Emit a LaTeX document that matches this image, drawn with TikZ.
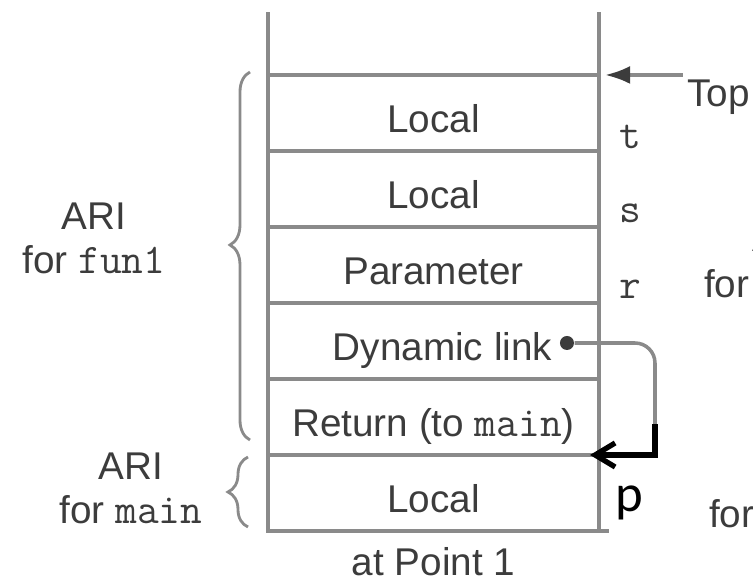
\documentclass[tikz,border=0pt]{standalone}
\usepackage{fontspec}
\setmainfont{Liberation Sans}
\newfontfamily\pfont{Carlito}
\usetikzlibrary{arrows.meta,positioning,decorations.pathreplacing}
\definecolor{stackline}{HTML}{8A8A8A}
\definecolor{stacktext}{HTML}{3C3C3C}

\begin{document}
\begin{tikzpicture}[
    x=0.01cm, y=-0.01cm,
    node distance=0pt,
    cell/.style={draw=stackline,line width=1pt,minimum width=3.31cm,minimum height=0.76cm,
      inner sep=0pt,outer sep=0pt,text height=0.45cm,text depth=0.07cm,
      text=stacktext,font=\fontsize{11}{13.2}\selectfont},
    lbl/.style={text=stacktext,align=center,inner sep=1pt,font=\fontsize{11}{12.5}\selectfont},
    var/.style={text=stacktext,inner sep=1pt,font=\fontsize{12}{13}\ttfamily},
    curly/.style={decorate,decoration={brace,amplitude=0.2cm,aspect=#1},draw=stackline,line width=0.8pt},
    >=Latex]
  \useasboundingbox (0,0) rectangle (753,582);

  % the stack, top cell first
  \node[cell] (c1) at (433.5,113) {Local};
  \node[cell,below=of c1] (c2) {Local};
  \node[cell,below=of c2] (c3) {Parameter};
  \node[cell,below=of c3] (c4) {\hspace*{0.18cm}Dynamic link};
  \node[cell,below=of c4] (c5) {Return (to {\fontsize{12}{13}\ttfamily main})};
  \node[cell,below=of c5] (c6) {Local};
  \draw[stackline,line width=1pt] (c1.north west) -- ++(0,-63);
  \draw[stackline,line width=1pt] (c1.north east) -- ++(0,-63);
  \draw[stackline,line width=1pt] (c6.south east) -- ++(10,0);
  \node[lbl,below=0.12cm of c6] (caption) {at Point 1};

  % names of the locals
  \node[var] (vt) at (630,137) {t};
  \node[var] (vs) at (630,213) {s};
  \node[var] (vr) at (630,289) {r};

  % top of stack
  \node[lbl,anchor=west] (top) at (683,97) {Top};
  \draw[stackline,line width=1pt,-{Latex[length=2.5mm,width=1.8mm,color=stacktext]}]
    (c1.north east -| top.west) -- ([xshift=0.06cm]c1.north east);

  % dynamic link
  \node[circle,fill=stacktext,inner sep=0pt,minimum size=0.14cm] (dl) at (567,343) {};
  \coordinate (bend) at (655,428);
  \coordinate (ptr) at (590,455);
  \draw[stackline,line width=1pt,rounded corners=0.2cm] (dl) -| (bend);
  \draw[black,line width=1.5pt,-{Straight Barb[length=2mm,width=2.4mm]}] ([yshift=1pt]bend) |- (ptr);
  \node[font=\pfont\fontsize{15}{18}\selectfont] (pmark) at (629,503) {p};

  % activation record instances
  \draw[curly=0.53] (250,440) -- (250,72);
  \draw[curly=0.5] (248,527) -- (248,457);
  \node[lbl] (arifun) at (94,238) {ARI\\for {\fontsize{12}{13}\ttfamily fun1}};
  \node[lbl] (arimain) at (131,488) {ARI\\for {\fontsize{12}{13}\ttfamily main}};

  % next stack, cut at the edge
  \node[lbl,anchor=west] (nexta) at (748,238) {A};
  \node[lbl,anchor=west] (nextfor) at (700,284) {for};
  \node[lbl,anchor=west] (nextb) at (749,468) {A};
  \node[lbl,anchor=west] (nextfor2) at (705,514) {for};
\end{tikzpicture}
\end{document}
